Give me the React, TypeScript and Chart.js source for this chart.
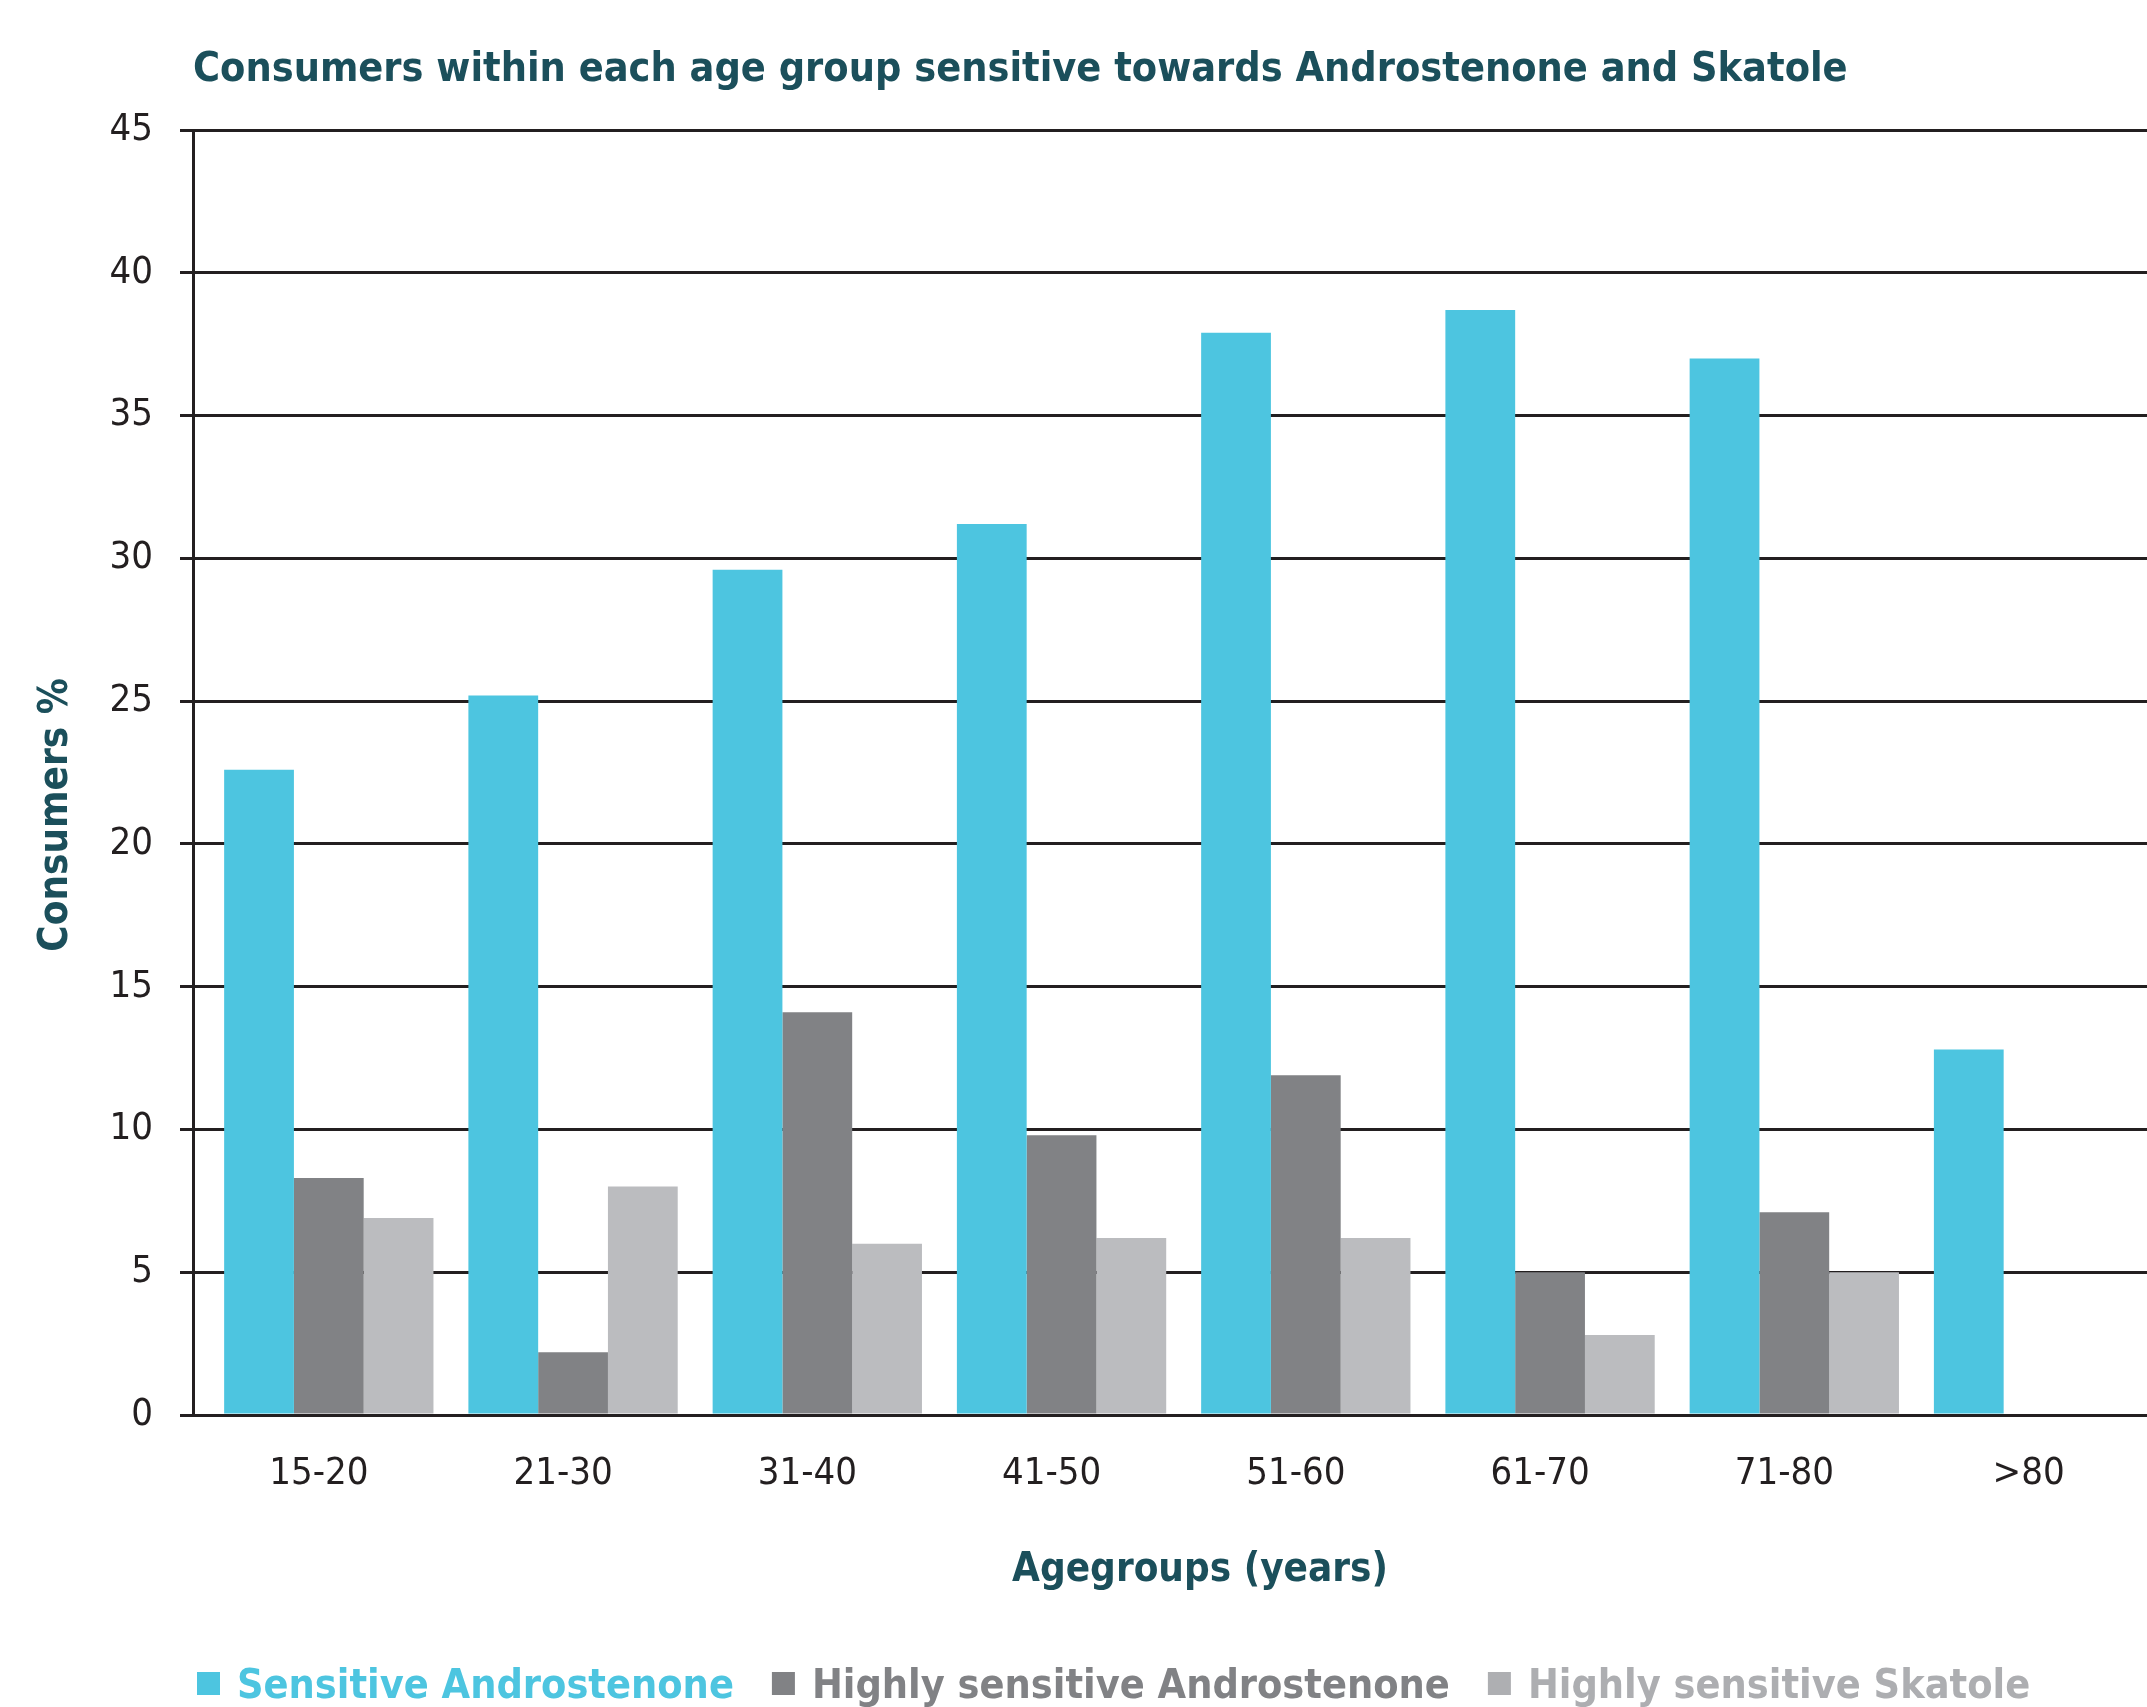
import React, { useEffect, useRef } from "react";
import { Chart, registerables } from "chart.js";

Chart.register(...registerables);

const categories = ["15-20", "21-30", "31-40", "41-50", "51-60", "61-70", "71-80", ">80"];
const seriesLabels = ["Sensitive Androstenone", "Highly sensitive Androstenone", "Highly sensitive Skatole"];
const sensitiveAndrostenone = [22.6, 25.2, 29.6, 31.2, 37.9, 38.7, 37.0, 12.8];
const highlySensitiveAndrostenone = [8.3, 2.2, 14.1, 9.8, 11.9, 5.0, 7.1, 0];
const highlySensitiveSkatole = [6.9, 8.0, 6.0, 6.2, 6.2, 2.8, 5.0, 0];
const yTickValues = [0, 5, 10, 15, 20, 25, 30, 35, 40, 45];

const titleText = "Consumers within each age group sensitive towards Androstenone and Skatole";
const xTitleText = "Agegroups (years)";
const yTitleText = "Consumers %";

const FONT = "'DejaVu Sans Condensed', 'Liberation Sans Narrow', sans-serif";
const TEAL = "#1b4f5b";
const INK = "#231f20";
const barColors = ["#4dc5e0", "#818285", "#bbbcbf"];
const legendTextColors = ["#4dc5e0", "#818285", "#adaeb1"];

const decorPlugin = {
  id: "decor",
  afterDraw(chart: any) {
    const ctx = chart.ctx as CanvasRenderingContext2D;
    const area = chart.chartArea;
    ctx.save();
    // Title
    ctx.fillStyle = TEAL;
    ctx.font = `bold 41px ${FONT}`;
    ctx.textAlign = "left";
    ctx.textBaseline = "alphabetic";
    ctx.fillText(titleText, area.left, 81);
    // X title
    ctx.font = `bold 40px ${FONT}`;
    ctx.textAlign = "center";
    ctx.textBaseline = "middle";
    ctx.fillText(xTitleText, 1200, 1571);
    // Y title
    ctx.save();
    ctx.translate(57, 815);
    ctx.rotate(-Math.PI / 2);
    ctx.fillText(yTitleText, 0, 0);
    ctx.restore();
    // Legend
    ctx.font = `bold 41px ${FONT}`;
    ctx.textAlign = "left";
    ctx.textBaseline = "alphabetic";
    let x = 197;
    chart.data.datasets.forEach((ds: any, i: number) => {
      ctx.fillStyle = i === 2 ? "#aeafb2" : ds.backgroundColor;
      ctx.fillRect(x, 1672, 23, 23);
      x += 23 + 17;
      ctx.fillStyle = legendTextColors[i];
      ctx.fillText(ds.label, x, 1698);
      x += ctx.measureText(ds.label).width + 38;
    });
    ctx.restore();
  },
};

export default function App() {
  const canvasRef = useRef<HTMLCanvasElement | null>(null);

  useEffect(() => {
    if (!canvasRef.current) return;
    const series = [sensitiveAndrostenone, highlySensitiveAndrostenone, highlySensitiveSkatole];
    const chart = new Chart(canvasRef.current, {
      type: "bar",
      data: {
        datasets: series.map((vals, i) => ({
          label: seriesLabels[i],
          data: vals.map((v, j) => ({ x: j, y: v })),
          backgroundColor: barColors[i],
          borderWidth: 0,
          categoryPercentage: 0.857,
          barPercentage: 1.0,
        })),
      },
      options: {
        animation: false,
        responsive: false,
        maintainAspectRatio: false,
        layout: { padding: { top: 130, right: 0, bottom: 0, left: 0 } },
        plugins: {
          legend: { display: false },
          title: { display: false },
          tooltip: { enabled: false },
        },
        scales: {
          x: {
            type: "linear",
            offset: false,
            min: -0.556,
            max: 7.444,
            grid: { display: false, drawTicks: false, offset: false },
            border: { display: false },
            afterBuildTicks: (scale: any) => {
              scale.ticks = categories.map((_, i) => ({ value: i }));
            },
            afterFit: (scale: any) => {
              scale.height = 292;
            },
            ticks: {
              autoSkip: false,
              maxRotation: 0,
              padding: 36,
              labelOffset: -10,
              color: INK,
              font: { family: FONT, size: 38 },
              callback: (v: any) => categories[Math.round(Number(v))] ?? "",
            },
          },
          y: {
            min: 0,
            max: 45,
            afterBuildTicks: (scale: any) => {
              scale.ticks = yTickValues.map((v) => ({ value: v }));
            },
            afterFit: (scale: any) => {
              scale.width = 193;
            },
            grid: {
              color: INK,
              lineWidth: 3,
              drawTicks: true,
              tickLength: 13,
            },
            border: { display: true, color: INK, width: 3 },
            ticks: {
              padding: 27,
              color: INK,
              font: { family: FONT, size: 38 },
            },
          },
        },
      },
      plugins: [decorPlugin],
    } as any);
    return () => chart.destroy();
  }, []);

  return (
    <div style={{ position: "fixed", left: 0, top: 0, width: 2147, height: 1707, background: "#fff" }}>
      <canvas ref={canvasRef} width={2147} height={1707} style={{ width: 2147, height: 1707, display: "block" }} />
    </div>
  );
}
